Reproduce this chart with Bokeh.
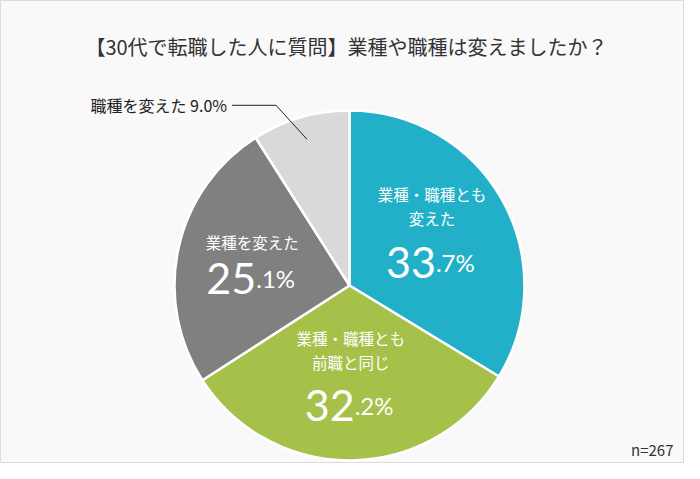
import numpy as np
from bokeh.plotting import figure
from bokeh.models import Range1d
from bokeh.core.properties import value
from bokeh.embed import file_html
from bokeh.resources import INLINE

# ---- data ----
title_text = "【30代で転職した人に質問】業種や職種は変えましたか？"
categories = ["業種・職種とも変えた", "業種・職種とも前職と同じ", "業種を変えた", "職種を変えた"]
label_lines = [["業種・職種とも", "変えた"], ["業種・職種とも", "前職と同じ"], ["業種を変えた"], []]
shares = [33.7, 32.2, 25.1, 9.0]
colors = ["#21b0c8", "#a6c14a", "#808080", "#d9d9d9"]
n_text = "n=267"

# ---- layout (page pixel coords -> data coords) ----
W, H = 684, 463
def X(px): return px
def Y(py): return 479 - py

CX, CY, R = 349, 285, 175
JP = "Noto Sans CJK JP"
NUM = "Lato"

p = figure(width=W, height=H, output_backend="svg", toolbar_location=None,
           x_range=Range1d(0, W), y_range=Range1d(479 - H, 479),
           min_border=0)
p.axis.visible = False
p.xgrid.visible = False
p.ygrid.visible = False
p.background_fill_color = "#f9f9f9"
p.border_fill_color = "#f9f9f9"
p.outline_line_color = "#dcdcdc"
p.outline_line_width = 1

vals = np.array(shares)
frac = vals / vals.sum()
cum = np.concatenate([[0], np.cumsum(frac)])
start = np.pi / 2 - 2 * np.pi * cum[:-1]
end = np.pi / 2 - 2 * np.pi * cum[1:]

p.wedge(x=X(CX), y=Y(CY), radius=R, start_angle=start, end_angle=end,
        direction="clock", fill_color=colors, line_color="white", line_width=2.5)

mid = 2 * np.pi * (cum[:-1] + frac / 2)  # clockwise from top

# labels inside slices
for i in range(3):
    ax = CX + 0.54 * R * np.sin(mid[i])
    ay = CY - 0.55 * R * np.cos(mid[i])
    lines = label_lines[i]
    if len(lines) == 2:
        ys = [ay - 44, ay - 20]
        base = ay + 24
    else:
        ys = [ay - 23]
        base = ay + 14
        ax = ax - 5
    for t, yy in zip(lines, ys):
        p.text(x=[X(ax)], y=[Y(yy)], text=[t], text_font=value(JP), text_font_size="15.5px",
               text_color="white", text_align="center", text_baseline="middle")
    s = f"{shares[i]:.1f}"
    big, small = s.split(".")
    split = ax + 4
    p.text(x=[X(split)], y=[Y(base)], text=[big], text_font=value(NUM), text_font_size="43px",
           text_color="white", text_align="right", text_baseline="alphabetic")
    p.text(x=[X(split)], y=[Y(base)], text=["." + small + "%"], text_font=value(NUM),
           text_font_size="24px", text_color="white", text_align="left", text_baseline="alphabetic")

# leader line for small slice
i = 3
ex = CX + 0.87 * R * np.sin(mid[i])
ey = CY - 0.87 * R * np.cos(mid[i])
kx, ky = ex - 31, ey - 34
hx = kx - 44
p.line(x=[X(ex), X(kx), X(hx)], y=[Y(ey), Y(ky), Y(ky)], line_color="#222222", line_width=1)
p.text(x=[X(hx - 5)], y=[Y(ky)], text=[f"{categories[i]} {shares[i]:.1f}%"],
       text_font=value(JP), text_font_size="16px", text_color="#222222",
       text_align="right", text_baseline="middle")

# title
p.text(x=[X(346)], y=[Y(46)], text=[title_text], text_font=value(JP), text_font_size="20px",
       text_color="#333333", text_align="center", text_baseline="middle")
# n
p.text(x=[X(673)], y=[Y(449)], text=[n_text], text_font=value(JP), text_font_size="15px",
       text_color="#333333", text_align="right", text_baseline="middle")

open("out.html", "w").write(file_html(p, INLINE))
